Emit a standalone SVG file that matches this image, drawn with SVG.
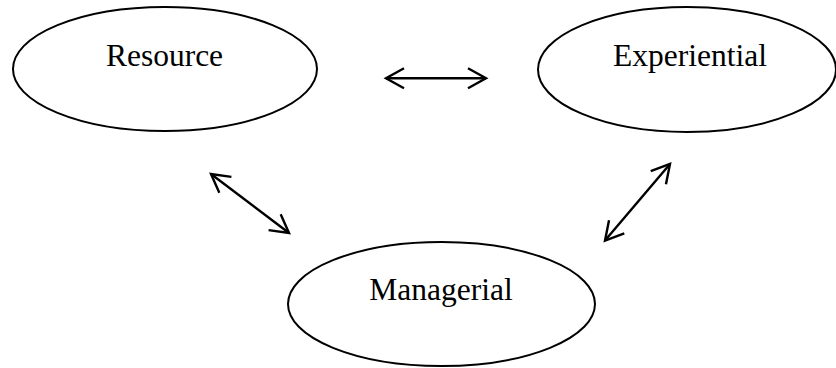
<svg xmlns="http://www.w3.org/2000/svg" width="836" height="368" viewBox="0 0 836 368">
<style>
.node ellipse{fill:#fff;stroke:#000;stroke-width:2}
.node text{font-family:"Liberation Serif","Times New Roman",serif;font-size:31.5px;fill:#000;text-anchor:middle}
.conn line{stroke:#000;stroke-width:2.4;fill:none}
</style>
<defs>
<marker id="ah" markerUnits="userSpaceOnUse" orient="auto-start-reverse" refX="0" refY="0" markerWidth="30" markerHeight="30" overflow="visible">
<path d="M-18,-10 L0,0 L-18,10" fill="none" stroke="#000" stroke-width="2.4"/>
</marker>
</defs>
<rect width="836" height="368" fill="#fff"/>
<g id="resource" class="node">
<ellipse cx="165" cy="69" rx="152" ry="62"/>
<text x="164.5" y="66">Resource</text>
</g>
<g id="experiential" class="node">
<ellipse cx="687" cy="69.5" rx="149" ry="62.5"/>
<text x="690" y="66">Experiential</text>
</g>
<g id="managerial" class="node">
<ellipse cx="441.5" cy="304" rx="153.5" ry="62"/>
<text x="441" y="300">Managerial</text>
</g>
<g id="connectors" class="conn">
<line x1="386" y1="78.3" x2="486" y2="78.3" marker-start="url(#ah)" marker-end="url(#ah)"/>
<line x1="211" y1="174" x2="289" y2="233" marker-start="url(#ah)" marker-end="url(#ah)"/>
<line x1="605" y1="240.5" x2="670" y2="164" marker-start="url(#ah)" marker-end="url(#ah)"/>
</g>
</svg>
